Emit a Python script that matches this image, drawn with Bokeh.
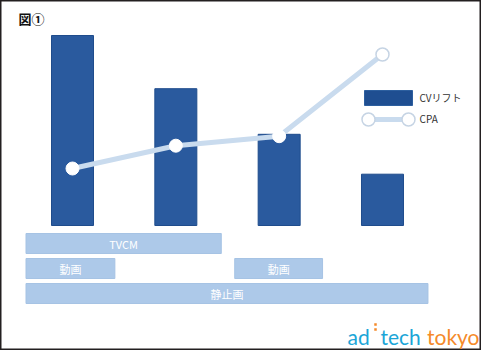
from bokeh.plotting import figure
from bokeh.models import Range1d
from bokeh.core.properties import value
from bokeh.embed import file_html
from bokeh.resources import INLINE

# ---- data ----
categories = [1, 2, 3, 4]
cv_lift = [100, 72, 48, 27]
cpa = [30, 42, 47, 90]

span_labels = ["TVCM", "動画", "動画", "静止画"]
span_start = [0.55, 0.55, 2.57, 0.55]
span_end = [2.44, 1.41, 3.42, 4.44]
span_row = [0, 1, 1, 2]

title_text = "図①"
legend_labels = ["CVリフト", "CPA"]

# ---- layout helpers (pixel -> data, only for annotations) ----
W, H = 481, 350
SP = 103.33   # px per category
X0 = 72.0     # px of category 1 center
PY = 1.9      # px per unit
Y0 = 225.0    # px of value 0


def ux(px):
    return 1 + (px - X0) / SP


def uy(py):
    return (Y0 - py) / PY


p = figure(width=W, height=H, output_backend="svg", toolbar_location=None,
           x_range=Range1d(ux(0), ux(W)), y_range=Range1d(uy(H), uy(0)),
           min_border=0, x_axis_location=None, y_axis_location=None)
p.grid.visible = False
p.outline_line_color = "#231f20"
p.outline_line_width = 2
p.background_fill_color = "white"
p.border_fill_color = "white"

JP = value("Noto Sans CJK JP")

# bars
p.vbar(x=categories, top=cv_lift, bottom=0, width=42 / SP,
       fill_color="#2a5a9e", line_color="#1f4c8c", line_width=1)

# CPA line
p.line(categories, cpa, line_width=5, line_color="#c9dbee")
p.scatter(categories[:3], cpa[:3], size=13, fill_color="white",
          line_color="white", line_width=1)
p.scatter(categories[3:], cpa[3:], size=13, fill_color="white",
          line_color="#c6d4e4", line_width=1.5)

# timeline spans
row_y = [uy(243 + 25 * r) for r in span_row]
hh = 10 / PY
p.quad(left=span_start, right=span_end,
       top=[y + hh for y in row_y], bottom=[y - hh for y in row_y],
       fill_color="#adc9e9", line_color="#a6c3e4", line_width=1)
p.text(x=[(a + b) / 2 for a, b in zip(span_start, span_end)], y=row_y,
       text=span_labels, text_align="center", text_baseline="middle",
       text_font=JP, text_font_size="11px", text_color="white")

# title
p.text(x=[ux(18)], y=[uy(18)], text=[title_text], text_align="left",
       text_baseline="middle", text_font=JP, text_font_size="13px",
       text_color="#111111", text_font_style="bold")

# legend
p.quad(left=[ux(364)], right=[ux(412)], top=[uy(90)], bottom=[uy(105)],
       fill_color="#1f4e91", line_color="#2d5f9f", line_width=1)
p.line([ux(368), ux(408)], [uy(119), uy(119)], line_width=5,
       line_color="#c9dbee")
p.scatter([ux(368), ux(408)], [uy(119), uy(119)], size=13,
          fill_color="white", line_color="#c6d4e4", line_width=1.5)
p.text(x=[ux(419), ux(419)], y=[uy(97), uy(118)], text=legend_labels,
       text_align="left", text_baseline="middle", text_font=JP,
       text_font_size="10px", text_color="#333333")

# logo
LOGO = value("Lato")
LOGO_Y = uy(336)
p.text(x=[ux(347)], y=[LOGO_Y], text=["ad"], text_align="left",
       text_baseline="middle", text_font=LOGO, text_font_size="21px",
       text_color="#1ba5d7")
p.text(x=[ux(380)], y=[LOGO_Y], text=["tech"], text_align="left",
       text_baseline="middle", text_font=LOGO, text_font_size="21px",
       text_color="#1ba5d7")
p.text(x=[ux(479)], y=[LOGO_Y], text=["tokyo"], text_align="right",
       text_baseline="middle", text_font=LOGO, text_font_size="21px",
       text_color="#f58a2a")
p.scatter([ux(375), ux(375)], [uy(324), uy(329)], size=2.5,
          marker="square", fill_color="#f58a2a", line_color=None)

open("out.html", "w").write(file_html(p, INLINE))
